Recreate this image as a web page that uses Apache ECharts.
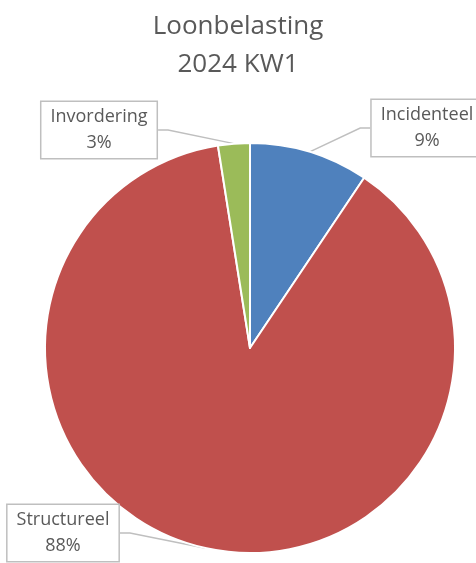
<!DOCTYPE html>
<html>
<head>
<meta charset="utf-8">
<script src="https://cdn.jsdelivr.net/npm/echarts@6/dist/echarts.min.js"></script>
<style>
  html, body { margin: 0; padding: 0; background: #fff; }
  #chart { width: 476px; height: 563px; }
</style>
</head>
<body>
<div id="chart"></div>
<script>
// gegevens uit de grafiek
var titleLines = ['Loonbelasting', '2024 KW1'];
var categories = ['Incidenteel', 'Structureel', 'Invordering'];
var shares = [9.4, 88.1, 2.5];
var colors = ['#4F81BD', '#C0504D', '#9BBB59'];

// plek van de labelkaders (midden)
var labelPos = [[427, 128], [63, 533], [99, 130]];

var chart = echarts.init(document.getElementById('chart'));

var option = {
  animation: false,
  title: {
    text: titleLines.join('\n'),
    left: 'center',
    top: 3,
    textStyle: {
      fontFamily: 'Open Sans',
      fontSize: 26,
      fontWeight: 'normal',
      color: '#595959',
      lineHeight: 38
    }
  },
  series: [
    {
      type: 'pie',
      center: [250, 348],
      radius: 205,
      startAngle: 90,
      clockwise: true,
      percentPrecision: 0,
      data: categories.map(function (name, i) {
        return { name: name, value: shares[i], itemStyle: { color: colors[i] } };
      }),
      itemStyle: {
        borderColor: '#fff',
        borderWidth: 2
      },
      label: {
        show: true,
        position: 'outside',
        formatter: '{b}\n{d}%',
        fontFamily: 'Open Sans',
        fontSize: 18,
        lineHeight: 26,
        color: '#595959',
        align: 'center',
        backgroundColor: '#fff',
        borderColor: '#bfbfbf',
        borderWidth: 1.5,
        padding: [2, 9, 2, 9]
      },
      labelLine: {
        show: true,
        length: 10,
        length2: 10,
        lineStyle: { color: '#bfbfbf', width: 1.5 }
      },
      labelLayout: function (params) {
        var p = labelPos[params.dataIndex];
        return {
          x: p[0],
          y: p[1],
          align: 'center',
          verticalAlign: 'middle'
        };
      }
    }
  ]
};

chart.setOption(option);
</script>
</body>
</html>
